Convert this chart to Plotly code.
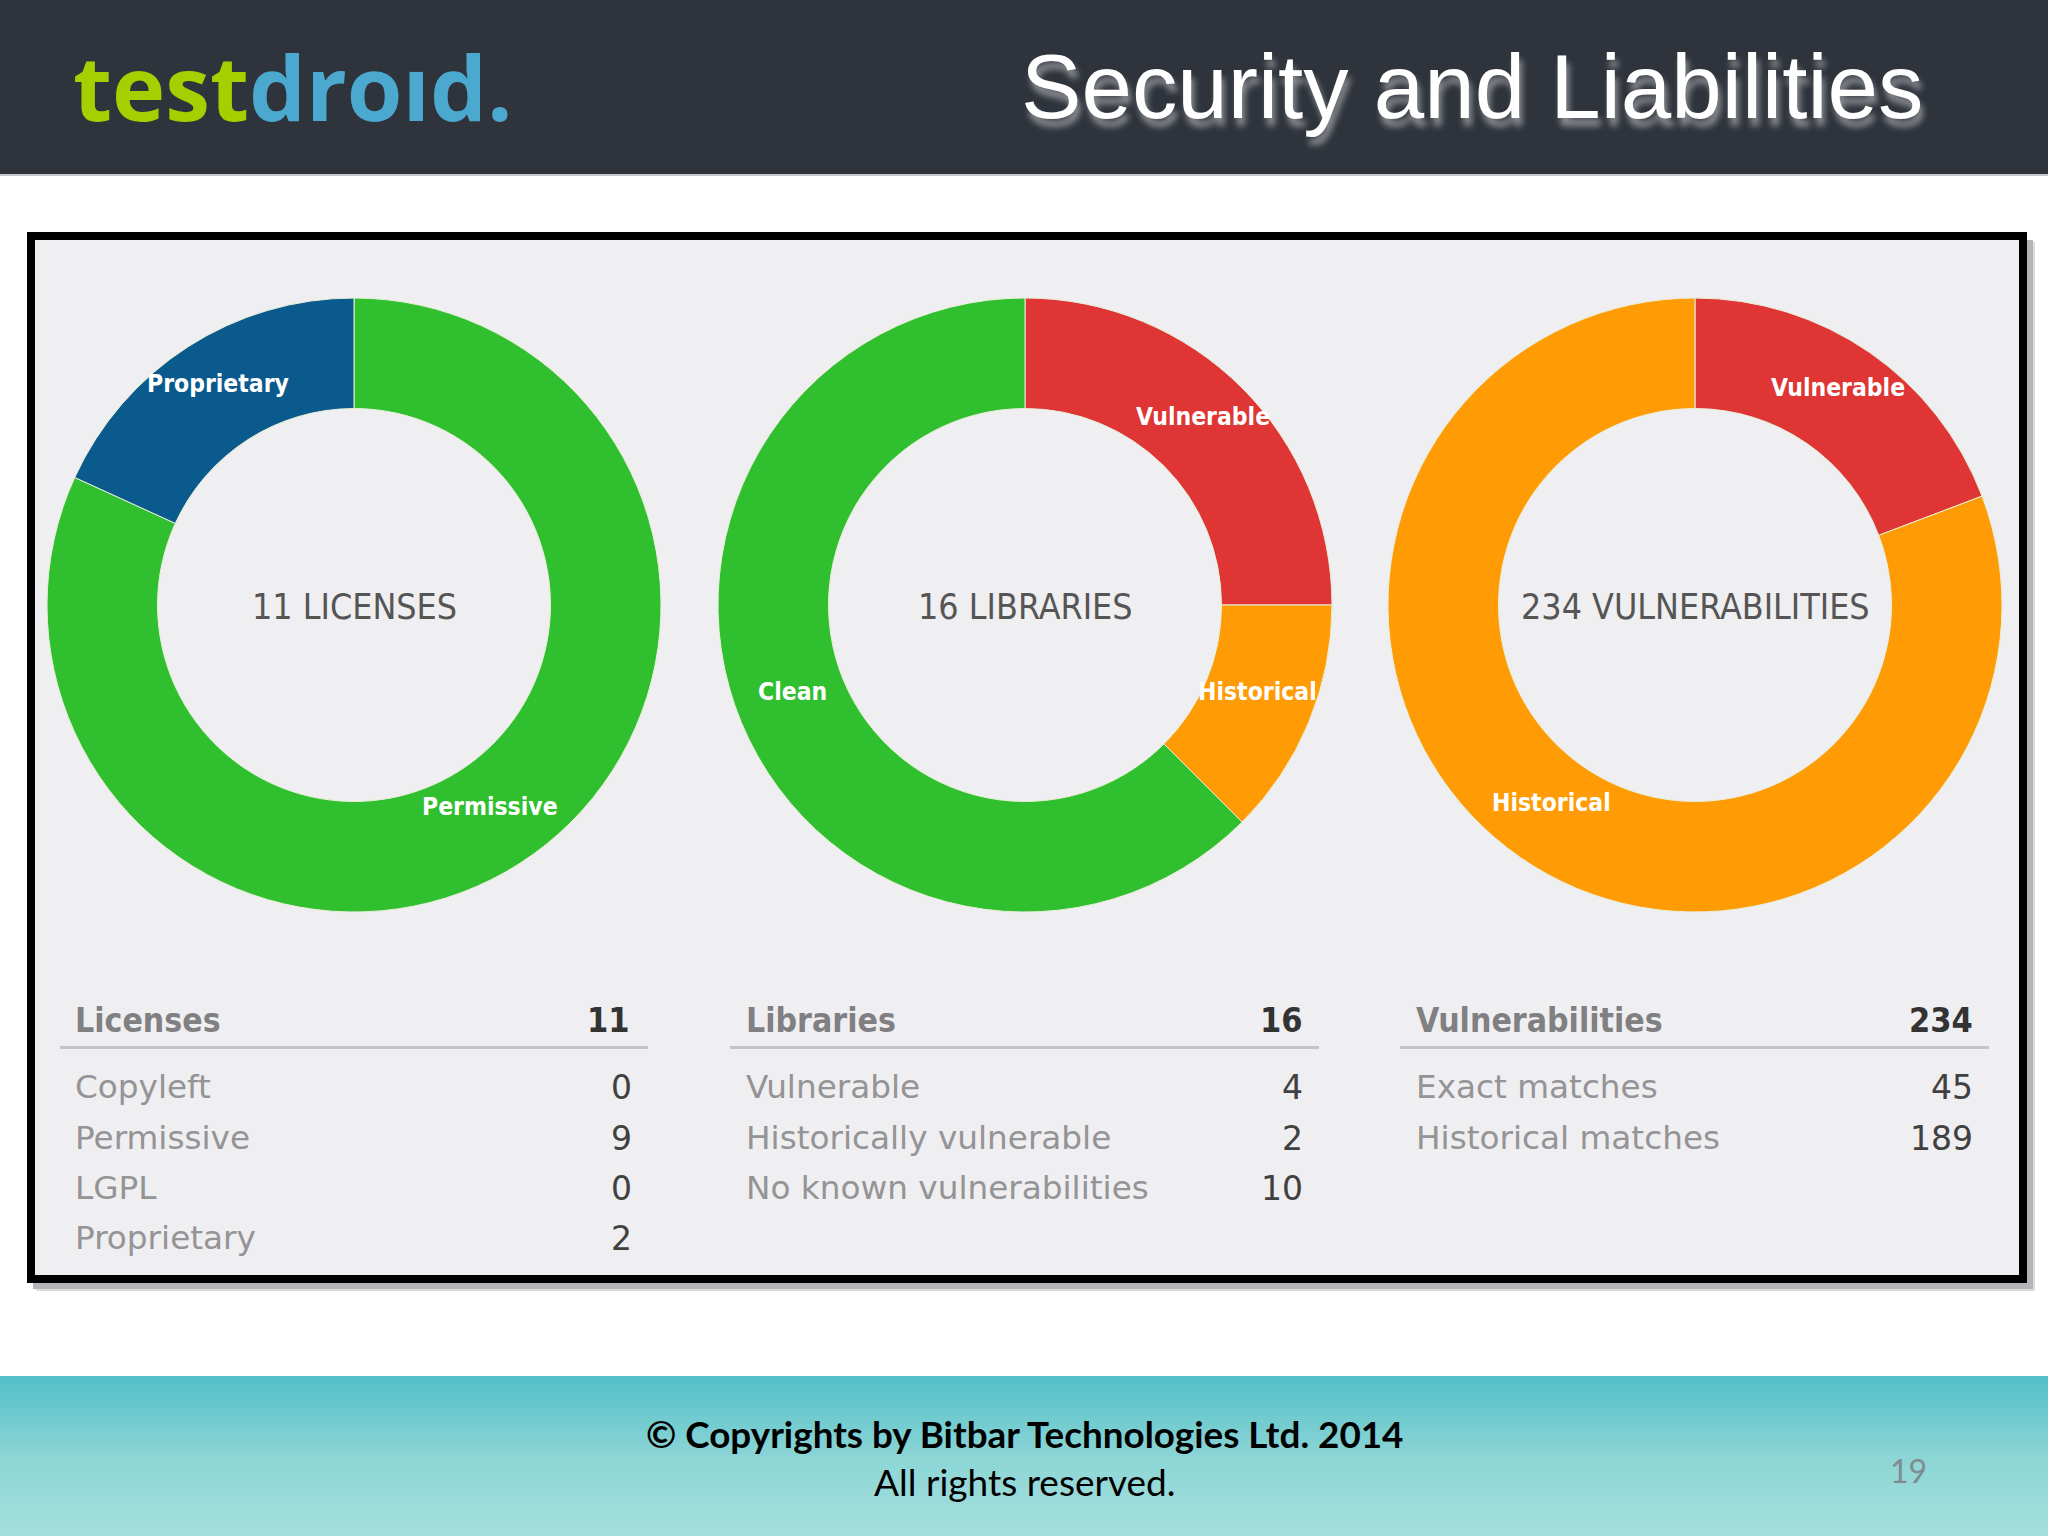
import math

import plotly.graph_objects as go

W, H = 2048, 1536

# pie data
license_labels = ['Permissive', 'Proprietary']
license_values = [9, 2]
library_labels = ['Vulnerable', 'Historical', 'Clean']
library_values = [4, 2, 10]
vuln_labels = ['Vulnerable', 'Historical']
vuln_values = [45, 189]

license_colors = ['#2fbf2f', '#0b5a8e']
library_colors = ['#e03535', '#ff9b05', '#2fbf2f']
vuln_colors = ['#e03535', '#ff9b05']

center_titles = ['11 LICENSES', '16 LIBRARIES', '234 VULNERABILITIES']

# tables under the donuts
table_heads = ['Licenses', 'Libraries', 'Vulnerabilities']
table_totals = [11, 16, 234]
license_rows = ['Copyleft', 'Permissive', 'LGPL', 'Proprietary']
license_counts = [0, 9, 0, 2]
library_rows = ['Vulnerable', 'Historically vulnerable', 'No known vulnerabilities']
library_counts = [4, 2, 10]
vuln_rows = ['Exact matches', 'Historical matches']
vuln_counts = [45, 189]

centers = [354, 1025, 1695]
center_y = 605
radius = 307
hole = 0.64
line_x = [(60, 648), (730, 1319), (1400, 1989)]
left_x = [74, 745, 1415]
head_right = [631, 1304, 1974]
row_right = [633, 1304, 1974]
row_y = [1087, 1138, 1188, 1238]


def px(x):
    return x / W


def py(y):
    return 1 - y / H


def rect(x0, y0, x1, y1, color):
    return dict(type='rect', xref='paper', yref='paper', x0=px(x0), x1=px(x1),
                y0=py(y0), y1=py(y1), fillcolor=color, line_width=0, layer='below')


def text(x, y, s, size, color, font='DejaVu Sans', anchor='left', **kw):
    fig.add_annotation(x=px(x), y=py(y), xref='paper', yref='paper', text=s, showarrow=False,
                       xanchor=anchor, yanchor='middle', borderpad=0,
                       font=dict(size=size, color=color, family=font, **kw))


fig = go.Figure()

pies = [(license_labels, license_values, license_colors),
        (library_labels, library_values, library_colors),
        (vuln_labels, vuln_values, vuln_colors)]

for i, (labels, values, colors) in enumerate(pies):
    fig.add_trace(go.Pie(
        labels=labels,
        values=values,
        marker=dict(colors=colors, line=dict(color='#e8f0d8', width=1)),
        hole=hole,
        sort=False,
        direction='clockwise',
        rotation=0,
        textinfo='none',
        domain=dict(x=[px(centers[i] - radius), px(centers[i] + radius)],
                    y=[py(center_y + radius), py(center_y - radius)]),
        showlegend=False
    ))

# slide background: header, framed panel, footer
shapes = [rect(0, 0, W, 174, '#2f343c'), rect(0, 174, W, 176, '#c8c8cc')]
shapes.append(rect(36, 242, 2035, 1291, '#dcdbde'))
shapes.append(rect(33, 240, 2033, 1289, '#b5b4b9'))
shapes.append(rect(27, 232, 2027, 1283, '#000000'))
shapes.append(rect(35, 240, 2019, 1275, '#efeef0'))

top = (0x55, 0xc0, 0xc9)
mid = (0x8d, 0xd6, 0xd6)
bottom = (0xa6, 0xe0, 0xdf)
for y in range(1376, 1536, 4):
    t = (y - 1376) / 160
    if t < 0.5:
        c = [top[k] + (mid[k] - top[k]) * t * 2 for k in range(3)]
    else:
        c = [mid[k] + (bottom[k] - mid[k]) * (t - 0.5) * 2 for k in range(3)]
    shapes.append(rect(0, y, W, y + 4, 'rgb(%d,%d,%d)' % tuple(c)))

for x0, x1 in line_x:
    shapes.append(rect(x0, 1046, x1, 1049, '#c4c4c6'))

fig.update_layout(width=W, height=H, margin=dict(l=0, r=0, t=0, b=0), autosize=False,
                  paper_bgcolor='white', plot_bgcolor='white', shapes=shapes)

# header texts
text(72, 86, '<span style="color:#a6cf00">test</span><span style="color:#4ba8cf">droıd.</span>',
     90, '#4ba8cf', font='Open Sans', weight='bold')
text(1924, 86, 'Security and Liabilities', 90.7, 'white', font='Liberation Sans', anchor='right',
     shadow='3px 8px 6px rgba(255,255,255,0.45)')

# slice labels sit at the middle of each slice's arc, a little above the ring's midline
label_r = radius * (1 + hole) / 2
for i, (labels, values, colors) in enumerate(pies):
    text(centers[i], center_y + 1, center_titles[i], 35.5, '#555555', font='DejaVu Sans Condensed', anchor='center')
    total = sum(values)
    start = 0
    for label, value in zip(labels, values):
        angle = (start + value / 2) / total * 2 * math.pi
        start += value
        text(centers[i] + label_r * math.sin(angle), center_y - label_r * math.cos(angle) - 10, label,
             24.5, 'white', font='DejaVu Sans Condensed', anchor='center', weight='bold')

# tables
rows = [(license_rows, license_counts), (library_rows, library_counts), (vuln_rows, vuln_counts)]
for i, (names, counts) in enumerate(rows):
    text(left_x[i], 1020, table_heads[i], 33.5, '#808082', font='DejaVu Sans Condensed', weight='bold')
    text(head_right[i], 1020, str(table_totals[i]), 34, '#333333', font='DejaVu Sans Condensed',
         anchor='right', weight='bold')
    for j, name in enumerate(names):
        text(left_x[i], row_y[j], name, 32.7, '#949496')
        text(row_right[i], row_y[j], str(counts[j]), 33, '#404040', anchor='right')

# footer
text(1024, 1434, '© Copyrights by Bitbar Technologies Ltd. 2014', 36.8, '#000000', font='Lato', anchor='center',
     weight='bold')
text(1024, 1481, 'All rights reserved.', 37, '#000000', font='Lato', anchor='center')
text(1908, 1470, '19', 32, '#7f8c90', font='Lato', anchor='center')

fig.write_html("out.html", post_script="document.body.style.margin='0';", config={'displayModeBar': False})
